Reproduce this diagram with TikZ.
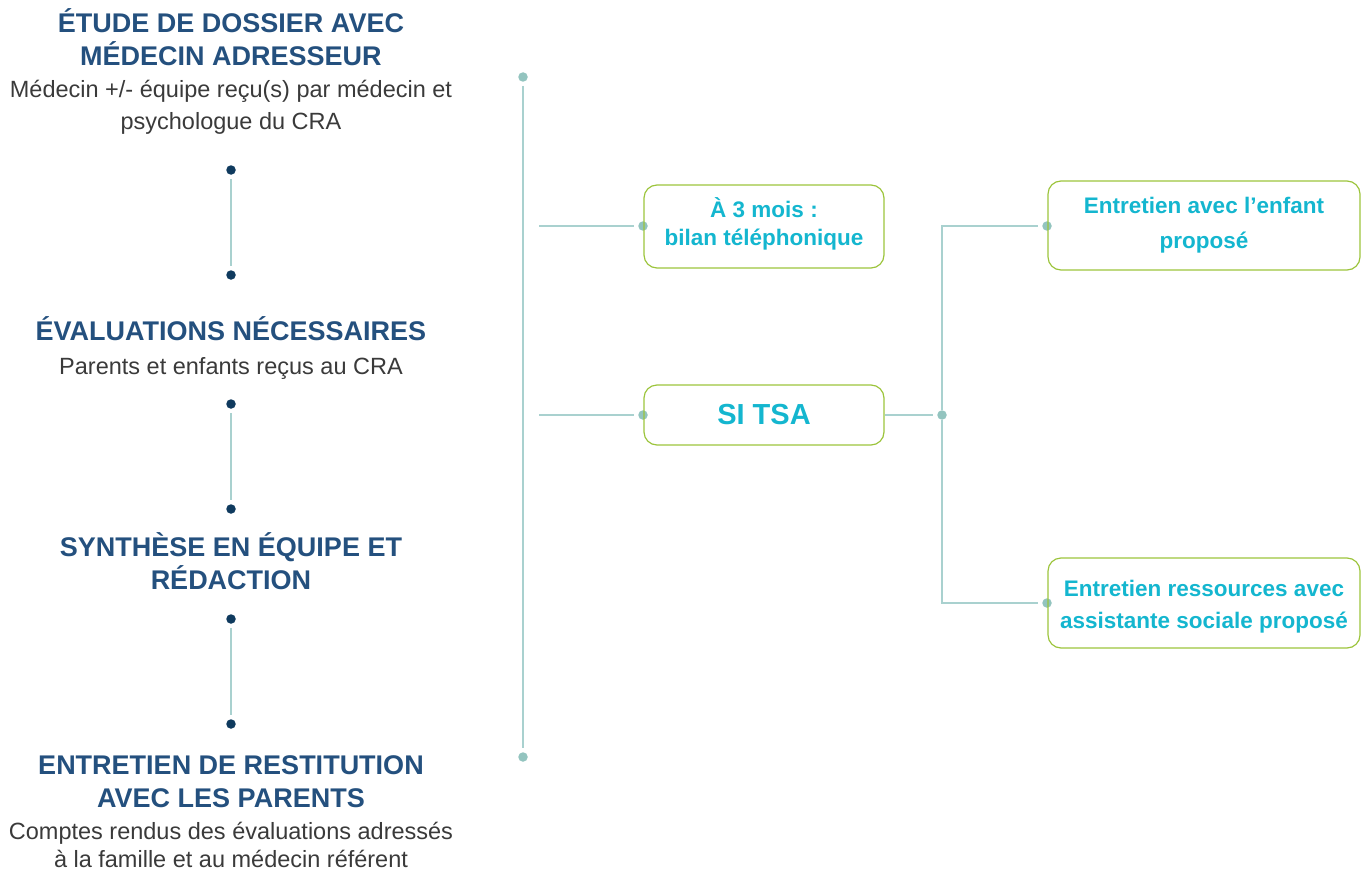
\documentclass[tikz,border=0pt]{standalone}
\usepackage{fontspec}
\setmainfont{Liberation Sans}
\definecolor{headblue}{HTML}{24507E}
\definecolor{bodygray}{HTML}{3A3A3A}
\definecolor{navy}{HTML}{0F3A5E}
\definecolor{sage}{HTML}{93C4BF}
\definecolor{linkteal}{HTML}{A9D1CF}
\definecolor{boxgreen}{HTML}{9CC43C}
\definecolor{cyantxt}{HTML}{14B6CF}
\tikzset{
  head/.style={font=\bfseries\fontsize{27}{33}\selectfont, text=headblue, align=center},
  sub/.style={font=\fontsize{23.5}{32}\selectfont, text=bodygray, align=center},
  navdot/.style={circle, fill=navy, inner sep=0pt, minimum size=9.5pt},
  sagedot/.style={circle, fill=sage, inner sep=0pt, minimum size=9.5pt},
  box/.style={draw=boxgreen, line width=1.2pt, rounded corners=13pt, text=cyantxt,
    font=\bfseries\fontsize{22.5}{28}\selectfont, align=center, inner sep=0pt},
  link/.style={draw=linkteal, line width=1.3pt}
}
\begin{document}
\begin{tikzpicture}[x=1pt, y=-1pt]
  \useasboundingbox (0,0) rectangle (1368,875);
  % left column
  \node[head] (h1) at (231,37) {ÉTUDE DE DOSSIER AVEC\\MÉDECIN ADRESSEUR};
  \node[sub] (s1) at (231,107) {Médecin +/- équipe reçu(s) par médecin et\\psychologue du CRA};
  \node[head] (h2) at (231,329) {ÉVALUATIONS NÉCESSAIRES};
  \node[sub] (s2) at (231,368) {Parents et enfants reçus au CRA};
  \node[head] (h3) at (231,561) {SYNTHÈSE EN ÉQUIPE ET\\RÉDACTION};
  \node[head] (h4) at (231,782) {ENTRETIEN DE RESTITUTION\\AVEC LES PARENTS};
  \node[sub, font=\fontsize{23.5}{28}\selectfont] (s4) at (231,845) {Comptes rendus des évaluations adressés\\à la famille et au médecin référent};
  \draw
    (231,170) node[navdot] (d1){}
    (231,275) node[navdot] (d2){}
    (231,404) node[navdot] (d3){}
    (231,509) node[navdot] (d4){}
    (231,619) node[navdot] (d5){}
    (231,724) node[navdot] (d6){};
  % spine
  \draw
    (523,77) node[sagedot] (top){}
    (523,757) node[sagedot] (bot){}
    (643,226) node[sagedot] (p1){}
    (643,415) node[sagedot] (p2){}
    (942,415) node[sagedot] (fork){}
    (1047,226) node[sagedot] (p3){}
    (1047,603) node[sagedot] (p4){};
  \coordinate (a1) at (539,226);
  \coordinate (a2) at (539,415);
  % boxes
  \node[box, minimum width=240pt, minimum height=83pt] (b1) at (764,226.5) {À 3 mois :\\bilan téléphonique\rule[-9pt]{0pt}{1pt}};
  \node[box, minimum width=240pt, minimum height=60pt, font=\bfseries\fontsize{29}{30}\selectfont] (b2) at (764,415) {SI TSA};
  \node[box, minimum width=312pt, minimum height=89pt, font=\bfseries\fontsize{22.5}{35}\selectfont] (b3) at (1204,225.5) {Entretien avec l’enfant\\proposé};
  \node[box, minimum width=312pt, minimum height=90pt, font=\bfseries\fontsize{22.5}{32}\selectfont] (b4) at (1204,603) {\rule{0pt}{24pt}Entretien ressources avec\\assistante sociale proposé};
  \begin{scope}[link, shorten >=4pt, shorten <=4pt]
    \draw (d1) to (d2);
    \draw (d3) to (d4);
    \draw (d5) to (d6);
    \draw (top) to (bot);
  \end{scope}
  \begin{scope}[link, shorten >=4pt]
    \draw (a1) to (p1);
    \draw (a2) to (p2);
    \draw (b2.east) to (fork);
    \draw (fork.north) |- (p3);
    \draw (fork.south) |- (p4);
  \end{scope}
\end{tikzpicture}
\end{document}
